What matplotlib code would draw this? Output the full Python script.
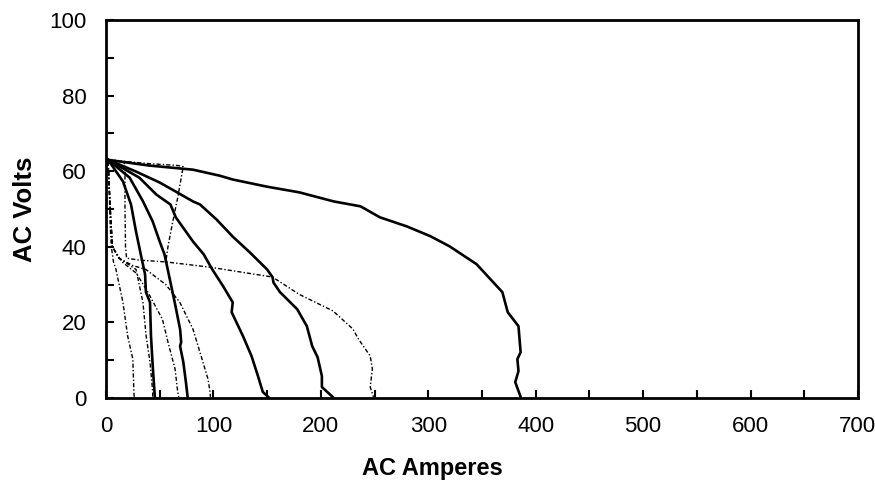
import matplotlib
matplotlib.use("Agg")
import matplotlib.pyplot as plt
from matplotlib.ticker import MultipleLocator

plt.rcParams['font.family'] = ['Liberation Sans', 'DejaVu Sans']

# solid curves (amps, volts)
l1_amps = [2, 40, 81, 106, 118, 150, 180, 212, 237, 255, 280, 302, 320, 345, 369, 374, 384, 386, 383, 384, 381, 386]
l1_volts = [63, 61.5, 60.4, 58.8, 57.8, 55.9, 54.4, 52, 50.7, 47.8, 45.4, 42.8, 40.1, 35.4, 28, 22.7, 19, 12.1, 10.3, 7.1, 4.2, 0.3]

l2_amps = [2, 28, 50, 65, 81, 87.5, 103, 118, 134, 150, 155, 156, 162, 178, 187, 192, 197, 201, 201, 211]
l2_volts = [63, 59.9, 57, 54.6, 52, 51.2, 47.2, 42.7, 38.5, 34, 32, 30.5, 28, 23.5, 19, 13.7, 10.8, 5.8, 2.9, 0.3]

l3_amps = [2, 31, 47, 60, 65, 74.5, 81, 91, 99, 109, 118, 117, 127.5, 135.5, 141.5, 146, 151]
l3_volts = [63, 58.3, 53.8, 51.2, 47.8, 44, 41.4, 38, 34, 29.6, 25.3, 22.7, 16.4, 11.1, 5.8, 1.6, 0.3]

l4_amps = [2, 22, 34.5, 43.5, 50, 54.5, 57.5, 64, 69, 70, 69, 72, 74.5, 76]
l4_volts = [63, 58.3, 52, 46.7, 41.4, 38, 34, 25.3, 18.2, 14.8, 13.7, 9.5, 4, 0.3]

l5_amps = [2, 15.8, 23.3, 28, 32.4, 36.4, 37.2, 41, 41.9, 43.7, 45.5]
l5_volts = [63, 57.3, 51.2, 44, 38, 32.7, 28, 25.3, 16.4, 7.7, 0.3]

# dotted curves
da_amps = [2, 3, 4, 5, 7, 9.3, 15.8, 20.2, 25, 26, 26.3]
da_volts = [62.5, 55, 45, 40, 36, 34, 25.3, 16.4, 10.3, 1.6, 0.3]

db_amps = [2, 4, 6, 12, 20, 28, 34.4, 37.4, 41, 43.5, 43.5]
db_volts = [62.5, 50, 40, 37, 35.5, 34, 25.3, 16.4, 9.5, 1.6, 0.3]

dc_amps = [2, 4, 6, 15, 28.3, 39, 52.6, 57.7, 64.3, 66.8, 67.8]
dc_volts = [62.5, 50, 40, 36, 33, 28, 20.8, 14.8, 7.7, 1.6, 0.3]

dd_amps = [2, 4, 6, 12, 25.3, 37.2, 55.7, 68.8, 81, 87.5, 95, 96.9, 97.2]
dd_volts = [62.5, 50, 40, 37, 35, 34, 30, 25.3, 18.2, 12.1, 5, 1.6, 0.3]

de_amps = [2, 10, 17.7, 17.7, 18.2, 19.2, 30, 55.7, 97, 155, 180, 211.5, 230, 235, 246, 248, 246, 249]
de_volts = [63, 62.8, 62, 50, 40, 37, 36.5, 36, 34.6, 32, 27.4, 23, 18.2, 15.6, 11.1, 7.7, 2.9, 0.3]

df_amps = [2, 40, 66.8, 71.9, 66.8, 61.7, 57.7, 55.7]
df_volts = [63, 62, 61.5, 61.2, 53, 46, 40, 36]

solid = [(l1_amps, l1_volts), (l2_amps, l2_volts), (l3_amps, l3_volts),
         (l4_amps, l4_volts), (l5_amps, l5_volts)]
dotted = [(da_amps, da_volts), (db_amps, db_volts), (dc_amps, dc_volts),
          (dd_amps, dd_volts), (de_amps, de_volts), (df_amps, df_volts)]

fig = plt.figure(figsize=(8.75, 4.84), dpi=100)
ax = fig.add_axes([0.1211, 0.1777, 0.8594, 0.781])

for x, y in dotted:
    ax.plot(x, y, color='black', lw=1.0, linestyle=(0, (3, 1.5, 1, 1.5)))
for x, y in solid:
    ax.plot(x, y, color='black', lw=1.9)

ax.set_xlim(0, 700)
ax.set_ylim(0, 100)
ax.xaxis.set_major_locator(MultipleLocator(100))
ax.xaxis.set_minor_locator(MultipleLocator(50))
ax.yaxis.set_major_locator(MultipleLocator(20))
ax.yaxis.set_minor_locator(MultipleLocator(10))
ax.tick_params(which='both', direction='in', width=1.5, labelsize=16,
               top=False, right=False)
ax.tick_params(which='major', length=6)
ax.tick_params(axis='x', which='major', pad=13)
ax.tick_params(axis='y', which='major', pad=14)
ax.tick_params(which='minor', length=6)
for s in ax.spines.values():
    s.set_linewidth(2)

ax.set_xlabel('AC Amperes', fontsize=17, fontweight='bold', labelpad=12)
ax.xaxis.set_label_coords(0.434, -0.155)
ax.set_ylabel('AC Volts', fontsize=18.5, fontweight='bold')
ax.yaxis.set_label_coords(-0.092, 0.5)

fig.savefig('out.png', dpi=100)
